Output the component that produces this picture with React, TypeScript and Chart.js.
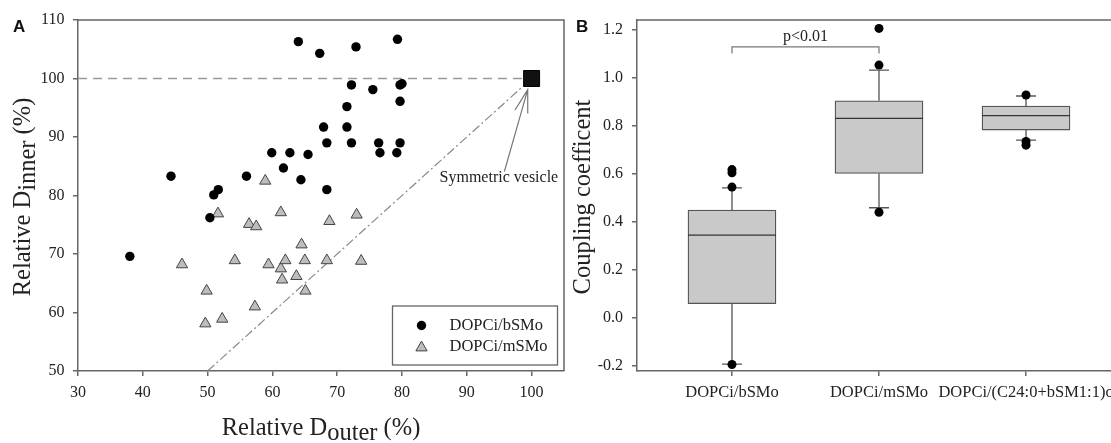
import React, { useEffect, useRef } from 'react';
import { Chart, registerables } from 'chart.js';

Chart.register(...registerables);

const SERIF = '"Liberation Serif", "Times New Roman", serif';
const SANS = '"Liberation Sans", Arial, sans-serif';
const AXIS = '#666';
const TEXT = '#222';

// ---------- Panel A data ----------
const A_X_TICKS = [30, 40, 50, 60, 70, 80, 90, 100];
const A_Y_TICKS = [50, 60, 70, 80, 90, 100, 110];

const BSMO_X = [38.0, 44.35, 50.35, 50.95, 51.65, 56.0, 59.9, 61.7, 62.7, 64.4, 64.0, 65.5, 67.3, 67.9, 68.4, 68.4, 71.5, 71.5, 72.2, 72.2, 72.9, 75.5, 76.4, 76.6, 79.2, 79.7, 79.7, 79.7, 80.0, 79.3];
const BSMO_Y = [69.6, 83.3, 76.2, 80.1, 81.0, 83.3, 87.3, 84.7, 87.3, 82.7, 106.3, 87.0, 104.3, 91.7, 89.0, 81.0, 95.2, 91.7, 98.9, 89.0, 105.4, 98.1, 89.0, 87.3, 87.3, 89.0, 96.1, 98.9, 99.1, 106.7];

const MSMO_X = [46.05, 49.65, 49.85, 51.6, 52.25, 54.2, 56.4, 57.3, 57.5, 58.9, 59.4, 61.3, 61.3, 61.5, 62.0, 63.7, 64.5, 65.0, 65.1, 68.4, 68.8, 73.0, 73.7];
const MSMO_Y = [68.2, 58.1, 63.7, 76.9, 58.9, 68.9, 75.1, 61.0, 74.7, 82.5, 68.2, 77.1, 67.5, 65.6, 68.9, 66.2, 71.6, 68.9, 63.7, 68.9, 75.6, 76.7, 68.8];

const SYM_POINT = [100, 100];
const REF_H_LINE_X = [30, 100];
const REF_H_LINE_Y = [100, 100];
const DIAG_X = [50, 100];
const DIAG_Y = [50, 100];
const ANNOT_TEXT = 'Symmetric vesicle';
const ANNOT_TEXT_POS = [85.8, 83.1];
const ARROW_FROM = [95.8, 84.1];
const ARROW_TO = [99.4, 98.1];
const LEGEND_LABELS = ['DOPCi/bSMo', 'DOPCi/mSMo'];

// ---------- Panel B data ----------
const B_CATEGORIES = ['DOPCi/bSMo', 'DOPCi/mSMo', 'DOPCi/(C24:0+bSM1:1)o'];
const B_Q1 = [0.059, 0.602, 0.783];
const B_MEDIAN = [0.345, 0.832, 0.843];
const B_Q3 = [0.449, 0.905, 0.883];
const B_WHISK_LOW = [-0.193, 0.459, 0.741];
const B_WHISK_HIGH = [0.542, 1.033, 0.925];
const B_OUTLIERS = [
  [0.545, 0.605, 0.618, -0.195],
  [1.207, 1.054, 0.44],
  [0.929, 0.735, 0.72],
];
const B_Y_TICKS = [-0.2, 0, 0.2, 0.4, 0.6, 0.8, 1.0, 1.2];
const B_SIG_LABEL = 'p<0.01';
const B_SIG_FROM = 1;
const B_SIG_TO = 2;
const B_SIG_Y = 1.13;
const B_SIG_DROP = 1.102;
const B_SIG_TEXT_Y = 1.171;

function drawMixed(ctx: CanvasRenderingContext2D, parts: { t: string; sub?: boolean }[], cx: number, baseline: number, size: number, subShift: number) {
  ctx.font = `${size}px ${SERIF}`;
  const total = parts.reduce((s, p) => s + ctx.measureText(p.t).width, 0);
  let x = cx - total / 2;
  ctx.textAlign = 'left';
  ctx.textBaseline = 'alphabetic';
  for (const p of parts) {
    ctx.fillText(p.t, x, baseline + (p.sub ? subShift : 0));
    x += ctx.measureText(p.t).width;
  }
}

const gridCfg = { display: true, drawOnChartArea: false, drawTicks: true, tickLength: 5, color: AXIS, lineWidth: 1.5, offset: false };
const borderCfg = { display: true, color: AXIS, width: 1.5 };

const panelAPlugin = {
  id: 'panelA',
  afterDraw(chart: any) {
    const { ctx, chartArea: ca, scales } = chart;
    const x = scales.x, y = scales.y;
    ctx.save();
    // frame top/right
    ctx.strokeStyle = AXIS;
    ctx.lineWidth = 1.5;
    ctx.beginPath();
    ctx.moveTo(ca.left, ca.top);
    ctx.lineTo(ca.right, ca.top);
    ctx.lineTo(ca.right, ca.bottom);
    ctx.stroke();

    // annotation arrow
    const fx = x.getPixelForValue(ARROW_FROM[0]), fy = y.getPixelForValue(ARROW_FROM[1]);
    const tx = x.getPixelForValue(ARROW_TO[0]), ty = y.getPixelForValue(ARROW_TO[1]);
    ctx.strokeStyle = '#777';
    ctx.lineWidth = 1.2;
    ctx.beginPath();
    ctx.moveTo(fx, fy);
    ctx.lineTo(tx, ty);
    const ang = Math.atan2(fy - ty, fx - tx);
    const hl = 24, ha = (16 * Math.PI) / 180;
    ctx.moveTo(tx + hl * Math.cos(ang - ha), ty + hl * Math.sin(ang - ha));
    ctx.lineTo(tx, ty);
    ctx.lineTo(tx + hl * Math.cos(ang + ha), ty + hl * Math.sin(ang + ha));
    ctx.stroke();

    ctx.fillStyle = TEXT;
    ctx.font = `16px ${SERIF}`;
    ctx.textAlign = 'left';
    ctx.textBaseline = 'middle';
    ctx.fillText(ANNOT_TEXT, x.getPixelForValue(ANNOT_TEXT_POS[0]), y.getPixelForValue(ANNOT_TEXT_POS[1]));

    // legend
    const lw = 165, lh = 59;
    const lr = ca.right - 6.5, lb = ca.bottom - 6;
    const ll = lr - lw, lt = lb - lh;
    ctx.strokeStyle = AXIS;
    ctx.lineWidth = 1.3;
    ctx.fillStyle = '#fff';
    ctx.fillRect(ll, lt, lw, lh);
    ctx.strokeRect(ll, lt, lw, lh);
    const mx = ll + 29;
    const r1 = lt + 19.5, r2 = lt + 41;
    ctx.fillStyle = '#000';
    ctx.beginPath();
    ctx.arc(mx, r1, 4.7, 0, Math.PI * 2);
    ctx.fill();
    const tr = 6.5;
    ctx.beginPath();
    ctx.moveTo(mx, r2 - tr * 0.75 - 1);
    ctx.lineTo(mx + tr * 0.866, r2 + tr * 0.75 - 1);
    ctx.lineTo(mx - tr * 0.866, r2 + tr * 0.75 - 1);
    ctx.closePath();
    ctx.fillStyle = '#bdbdbd';
    ctx.fill();
    ctx.strokeStyle = '#444';
    ctx.lineWidth = 1;
    ctx.stroke();
    ctx.fillStyle = TEXT;
    ctx.font = `16.5px ${SERIF}`;
    ctx.textAlign = 'left';
    ctx.textBaseline = 'middle';
    ctx.fillText(LEGEND_LABELS[0], ll + 57, r1);
    ctx.fillText(LEGEND_LABELS[1], ll + 57, r2);

    // axis titles
    ctx.fillStyle = TEXT;
    drawMixed(ctx, [{ t: 'Relative D' }, { t: 'outer', sub: true }, { t: ' (%)' }], (ca.left + ca.right) / 2, 435, 24.5, 5);
    ctx.save();
    ctx.translate(30, 197);
    ctx.rotate(-Math.PI / 2);
    drawMixed(ctx, [{ t: 'Relative D' }, { t: 'inner', sub: true }, { t: ' (%)' }], 0, 0, 24.5, 5);
    ctx.restore();

    // panel label
    ctx.font = `bold 17px ${SANS}`;
    ctx.fillStyle = '#111';
    ctx.textAlign = 'left';
    ctx.textBaseline = 'alphabetic';
    ctx.fillText('A', 13, 32);
    ctx.restore();
  },
};

const panelBPlugin = {
  id: 'panelB',
  beforeDatasetsDraw(chart: any) {
    const { ctx, scales } = chart;
    const x = scales.x, y = scales.y;
    ctx.save();
    ctx.strokeStyle = '#555';
    ctx.lineWidth = 1.3;
    B_CATEGORIES.forEach((_, i) => {
      const cx = x.getPixelForValue(i + 1);
      const pairs = [
        [B_Q3[i], B_WHISK_HIGH[i]],
        [B_Q1[i], B_WHISK_LOW[i]],
      ];
      for (const [from, to] of pairs) {
        ctx.beginPath();
        ctx.moveTo(cx, y.getPixelForValue(from));
        ctx.lineTo(cx, y.getPixelForValue(to));
        ctx.moveTo(cx - 10, y.getPixelForValue(to));
        ctx.lineTo(cx + 10, y.getPixelForValue(to));
        ctx.stroke();
      }
    });
    ctx.restore();
  },
  afterDatasetsDraw(chart: any) {
    const { ctx, scales } = chart;
    const x = scales.x, y = scales.y;
    ctx.save();
    ctx.strokeStyle = '#333';
    ctx.lineWidth = 1.3;
    B_CATEGORIES.forEach((_, i) => {
      const cx = x.getPixelForValue(i + 1);
      const my = y.getPixelForValue(B_MEDIAN[i]);
      ctx.beginPath();
      ctx.moveTo(cx - 44, my);
      ctx.lineTo(cx + 44, my);
      ctx.stroke();
    });
    ctx.restore();
  },
  afterDraw(chart: any) {
    const { ctx, chartArea: ca, scales } = chart;
    const x = scales.x, y = scales.y;
    ctx.save();
    ctx.strokeStyle = AXIS;
    ctx.lineWidth = 1.5;
    ctx.beginPath();
    ctx.moveTo(ca.left, ca.top);
    ctx.lineTo(ca.right, ca.top);
    ctx.lineTo(ca.right, ca.bottom);
    ctx.stroke();

    // significance bracket
    const x1 = x.getPixelForValue(B_SIG_FROM), x2 = x.getPixelForValue(B_SIG_TO);
    const yb = y.getPixelForValue(B_SIG_Y), yd = y.getPixelForValue(B_SIG_DROP);
    ctx.strokeStyle = '#777';
    ctx.lineWidth = 1.2;
    ctx.beginPath();
    ctx.moveTo(x1, yd);
    ctx.lineTo(x1, yb);
    ctx.lineTo(x2, yb);
    ctx.lineTo(x2, yd);
    ctx.stroke();
    ctx.fillStyle = TEXT;
    ctx.font = `16px ${SERIF}`;
    ctx.textAlign = 'center';
    ctx.textBaseline = 'middle';
    ctx.fillText(B_SIG_LABEL, x.getPixelForValue((B_SIG_FROM + B_SIG_TO) / 2), y.getPixelForValue(B_SIG_TEXT_Y));

    // y title
    ctx.save();
    ctx.translate(29.5, 197);
    ctx.rotate(-Math.PI / 2);
    drawMixed(ctx, [{ t: 'Coupling coefficent' }], 0, 0, 24.5, 0);
    ctx.restore();

    ctx.font = `bold 17px ${SANS}`;
    ctx.fillStyle = '#111';
    ctx.textAlign = 'left';
    ctx.textBaseline = 'alphabetic';
    ctx.fillText('B', 16, 32);
    ctx.restore();
  },
};

export default function App() {
  const refA = useRef<HTMLCanvasElement>(null);
  const refB = useRef<HTMLCanvasElement>(null);

  useEffect(() => {
    const tickFont = { family: SERIF, size: 16 };
    const chartA = new Chart(refA.current as HTMLCanvasElement, {
      type: 'scatter',
      data: {
        datasets: [
          {
            type: 'scatter',
            label: LEGEND_LABELS[0],
            data: BSMO_X.map((v, i) => ({ x: v, y: BSMO_Y[i] })),
            pointStyle: 'circle',
            pointRadius: 4.7,
            backgroundColor: '#000',
            borderColor: '#000',
            borderWidth: 0,
            order: 1,
          },
          {
            type: 'scatter',
            label: LEGEND_LABELS[1],
            data: MSMO_X.map((v, i) => ({ x: v, y: MSMO_Y[i] })),
            pointStyle: 'triangle',
            pointRadius: 6.5,
            backgroundColor: '#bdbdbd',
            borderColor: '#444',
            borderWidth: 1,
            order: 1,
          },
          {
            type: 'line',
            data: REF_H_LINE_X.map((v, i) => ({ x: v, y: REF_H_LINE_Y[i] })),
            borderColor: '#9a9a9a',
            borderDash: [9, 6],
            borderWidth: 1.5,
            pointRadius: 0,
            fill: false,
            order: 3,
          },
          {
            type: 'line',
            data: DIAG_X.map((v, i) => ({ x: v, y: DIAG_Y[i] })),
            borderColor: '#888',
            borderDash: [9, 3, 2, 3],
            borderWidth: 1.2,
            pointRadius: 0,
            fill: false,
            order: 3,
          },
          {
            type: 'scatter',
            data: [{ x: SYM_POINT[0], y: SYM_POINT[1] }],
            pointStyle: 'rect',
            pointRadius: 11.3,
            backgroundColor: '#111',
            borderColor: '#000',
            borderWidth: 1,
            order: 0,
          },
        ],
      } as any,
      options: {
        responsive: false,
        animation: false,
        devicePixelRatio: 1,
        events: [],
        layout: { padding: { top: 20, right: 16, left: 0, bottom: 0 } },
        plugins: { legend: { display: false }, tooltip: { enabled: false } },
        scales: {
          x: {
            type: 'linear',
            min: 30,
            max: 105,
            afterBuildTicks: (s: any) => { s.ticks = A_X_TICKS.map((v) => ({ value: v })); },
            afterFit: (s: any) => { s.height = 72; },
            ticks: { font: tickFont, color: TEXT, padding: 7, maxRotation: 0 },
            grid: gridCfg,
            border: borderCfg,
          },
          y: {
            type: 'linear',
            min: 50,
            max: 110,
            afterBuildTicks: (s: any) => { s.ticks = A_Y_TICKS.map((v) => ({ value: v })); },
            afterFit: (s: any) => { s.width = 78; },
            ticks: { font: tickFont, color: TEXT, padding: 8.5 },
            grid: gridCfg,
            border: borderCfg,
          },
        },
      } as any,
      plugins: [panelAPlugin],
    });

    const chartB = new Chart(refB.current as HTMLCanvasElement, {
      type: 'bar',
      data: {
        datasets: [
          {
            type: 'bar',
            data: B_CATEGORIES.map((_, i) => ({ x: i + 1, y: [B_Q1[i], B_Q3[i]] })),
            backgroundColor: '#c9c9c9',
            borderColor: '#555',
            borderWidth: 1.3,
            borderSkipped: false,
            barThickness: 88,
            order: 2,
          },
          {
            type: 'scatter',
            data: B_OUTLIERS.flatMap((arr, i) => arr.map((v) => ({ x: i + 1, y: v }))),
            pointStyle: 'circle',
            pointRadius: 4.5,
            backgroundColor: '#000',
            borderColor: '#000',
            borderWidth: 0,
            order: 0,
          },
        ],
      } as any,
      options: {
        responsive: false,
        animation: false,
        devicePixelRatio: 1,
        events: [],
        layout: { padding: { top: 20, right: 59, left: 0, bottom: 0 } },
        plugins: { legend: { display: false }, tooltip: { enabled: false } },
        scales: {
          x: {
            type: 'linear',
            min: 0.354,
            max: 3.646,
            offset: false,
            afterBuildTicks: (s: any) => { s.ticks = B_CATEGORIES.map((_, i) => ({ value: i + 1 })); },
            afterFit: (s: any) => { s.height = 72; },
            ticks: {
              font: { family: SERIF, size: 16.5 },
              color: TEXT,
              padding: 7,
              maxRotation: 0,
              autoSkip: false,
              callback: (v: any) => B_CATEGORIES[Math.round(Number(v)) - 1] ?? '',
            },
            grid: gridCfg,
            border: borderCfg,
          },
          y: {
            type: 'linear',
            min: -0.222,
            max: 1.242,
            afterBuildTicks: (s: any) => { s.ticks = B_Y_TICKS.map((v) => ({ value: v })); },
            afterFit: (s: any) => { s.width = 77; },
            ticks: { font: tickFont, color: TEXT, padding: 9, callback: (v: any) => Number(v).toFixed(1) },
            grid: gridCfg,
            border: borderCfg,
          },
        },
      } as any,
      plugins: [panelBPlugin],
    });

    return () => {
      chartA.destroy();
      chartB.destroy();
    };
  }, []);

  return (
    <div style={{ position: 'fixed', left: 0, top: 0, width: 1111, height: 443, overflow: 'hidden', background: '#fff' }}>
      <canvas ref={refA} width={580} height={443} style={{ position: 'absolute', left: 0, top: 0, width: 580, height: 443 }} />
      <canvas ref={refB} width={620} height={443} style={{ position: 'absolute', left: 560, top: 0, width: 620, height: 443 }} />
    </div>
  );
}
